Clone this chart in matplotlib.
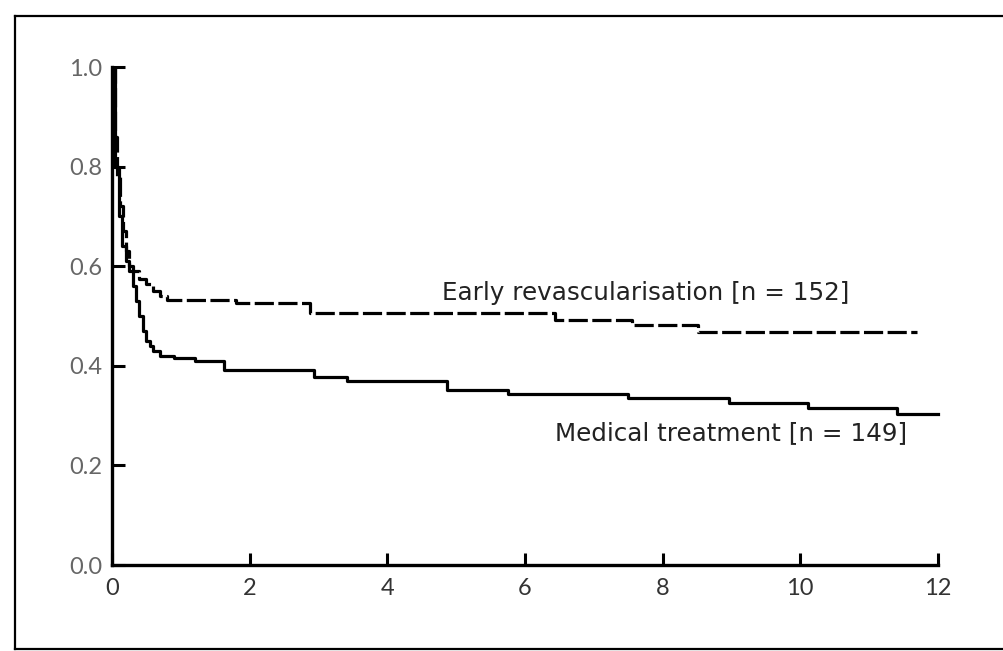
import matplotlib
matplotlib.use("Agg")
import matplotlib.pyplot as plt
from matplotlib.lines import Line2D

# Kaplan-Meier style step data
early_t = [0, 0.05, 0.08, 0.12, 0.16, 0.2, 0.25, 0.3, 0.4, 0.5, 0.6, 0.7, 0.8,
           1.8, 2.88, 6.44, 7.55, 8.52, 11.70]
early_s = [1.0, 0.86, 0.78, 0.72, 0.67, 0.63, 0.60, 0.59, 0.575, 0.565, 0.55,
           0.54, 0.532, 0.526, 0.506, 0.492, 0.482, 0.467, 0.467]

med_t = [0, 0.05, 0.1, 0.15, 0.2, 0.25, 0.3, 0.35, 0.4, 0.45, 0.5, 0.55, 0.6,
         0.7, 0.9, 1.2, 1.63, 2.93, 3.42, 4.87, 5.75, 7.5, 8.96, 10.12, 11.41, 12.0]
med_s = [1.0, 0.80, 0.70, 0.64, 0.61, 0.59, 0.56, 0.53, 0.50, 0.47, 0.45, 0.44,
         0.43, 0.42, 0.415, 0.41, 0.392, 0.378, 0.370, 0.352, 0.343, 0.335,
         0.325, 0.315, 0.303, 0.303]

x_ticks = [0, 2, 4, 6, 8, 10, 12]
y_ticks = [0.0, 0.2, 0.4, 0.6, 0.8, 1.0]
y_labels = ["0.0", "0.2", "0.4", "0.6", "0.8", "1.0"]

early_label = "Early revascularisation [n = 152]"
med_label = "Medical treatment [n = 149]"

plt.rcParams['font.family'] = ['Lato', 'DejaVu Sans']

fig = plt.figure(figsize=(10.04, 6.51), dpi=100)
ax = fig.add_axes([0.1115, 0.132, 0.826, 0.765])

ax.step(early_t, early_s, where='post', color='black', lw=2.3,
        dashes=[6, 1.4])
ax.step(med_t, med_s, where='post', color='black', lw=2.3)

ax.set_xlim(0, 12.05)
ax.set_ylim(0, 1.0)
ax.set_xticks(x_ticks)
ax.set_xticklabels([str(t) for t in x_ticks], fontsize=17, color='#333333')
ax.set_yticks(y_ticks)
ax.set_yticklabels(y_labels, fontsize=17, color='#666666')
ax.tick_params(direction='in', length=9, width=2.2, color='black')
ax.tick_params(axis='x', pad=9)
ax.tick_params(axis='y', pad=7)

for side in ['top', 'right']:
    ax.spines[side].set_visible(False)
for side in ['left', 'bottom']:
    ax.spines[side].set_linewidth(2.4)
ax.spines['bottom'].set_bounds(0, 12)

ax.text(4.79, 0.546, early_label, fontsize=17.7, color='#222222',
        family='DejaVu Sans', ha='left', va='center')
ax.text(6.44, 0.265, med_label, fontsize=17.7, color='#222222',
        family='DejaVu Sans', ha='left', va='center')

# frame of the scanned figure (open on the right)
fx0, fy0, fy1 = 15 / 1004, 1 - 649 / 651, 1 - 16 / 651
fig.add_artist(Line2D([fx0, fx0], [fy0, fy1], color='black', lw=1.6))
fig.add_artist(Line2D([fx0, 1.0], [fy1, fy1], color='black', lw=1.6))
fig.add_artist(Line2D([fx0, 1.0], [fy0, fy0], color='black', lw=1.6))

fig.savefig("out.png", dpi=100)
